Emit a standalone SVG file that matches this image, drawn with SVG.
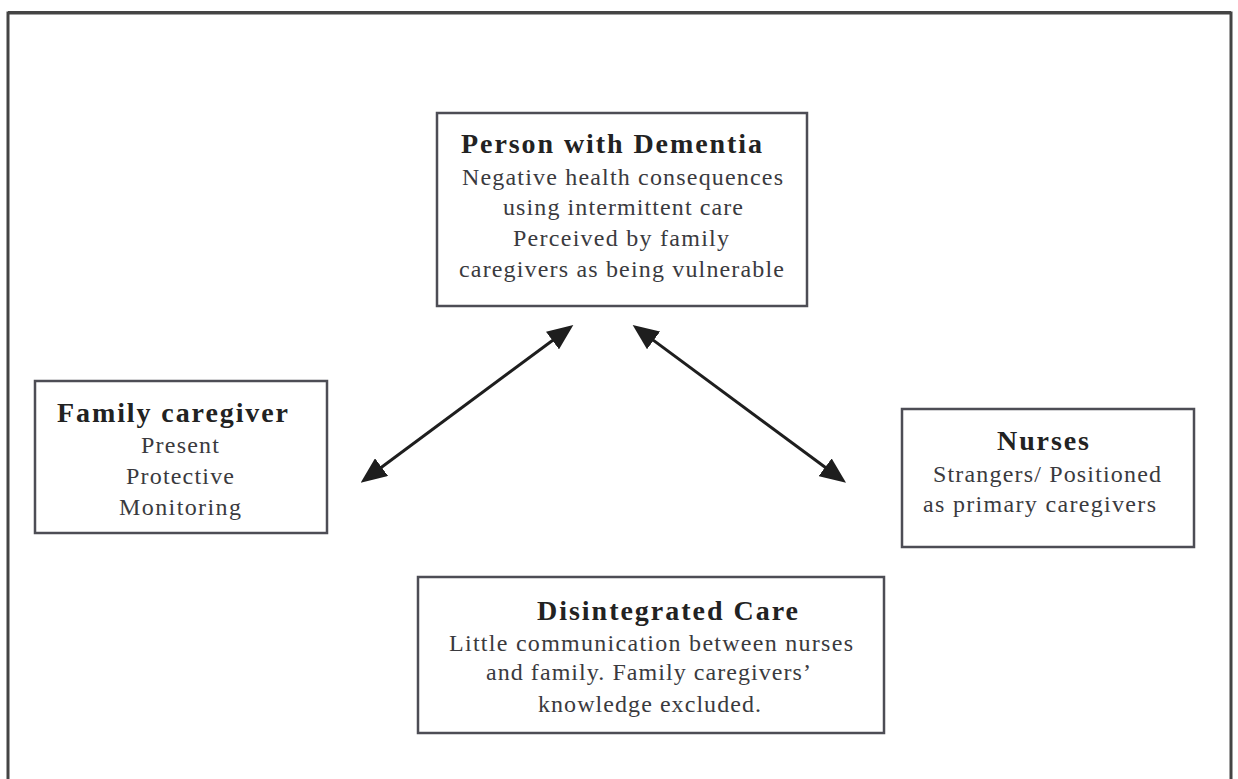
<svg xmlns="http://www.w3.org/2000/svg" width="1238" height="779" viewBox="0 0 1238 779">
<style>
.box{fill:#fff;stroke:#4d4d55;stroke-width:2.5}
.t{font-family:"Liberation Serif","Times New Roman",serif;font-size:28px;font-weight:bold;fill:#222}
.b{font-family:"Liberation Serif","Times New Roman",serif;font-size:24px;fill:#3a3a3e}
.arr{stroke:#1e1e1e;stroke-width:3;fill:none;marker-start:url(#ah);marker-end:url(#ah)}
</style>
<defs>
<marker id="ah" markerUnits="userSpaceOnUse" markerWidth="26" markerHeight="22" refX="16" refY="11" orient="auto-start-reverse" viewBox="0 0 26 22">
<path d="M0,0 L26,11 L0,22 z" fill="#1e1e1e"/>
</marker>
</defs>
<rect x="0" y="0" width="1238" height="779" fill="#fff"/>
<rect id="frame" x="8" y="13" width="1223" height="800" fill="none" stroke="#444" stroke-width="3"/>
<line x1="8" y1="12" x2="1231" y2="12" stroke="#444" stroke-width="2"/>
<g id="connectors">
<line class="arr" x1="368.7" y1="476.7" x2="565.3" y2="331"/>
<line class="arr" x1="640.7" y1="330.9" x2="838" y2="476.8"/>
</g>
<g id="person">
<rect class="box" x="437" y="113" width="370" height="193"/>
<text class="t" x="461" y="153" textLength="301" lengthAdjust="spacing">Person with Dementia</text>
<text class="b" x="462" y="185" textLength="321" lengthAdjust="spacing">Negative health consequences</text>
<text class="b" x="503" y="215" textLength="240" lengthAdjust="spacing">using intermittent care</text>
<text class="b" x="513" y="246" textLength="216" lengthAdjust="spacing">Perceived by family</text>
<text class="b" x="459" y="277" textLength="325" lengthAdjust="spacing">caregivers as being vulnerable</text>
</g>
<g id="family">
<rect class="box" x="35" y="381" width="292" height="152"/>
<text class="t" x="57" y="422" textLength="231" lengthAdjust="spacing">Family caregiver</text>
<text class="b" x="141" y="453" textLength="78" lengthAdjust="spacing">Present</text>
<text class="b" x="126" y="484" textLength="108" lengthAdjust="spacing">Protective</text>
<text class="b" x="119" y="515" textLength="122" lengthAdjust="spacing">Monitoring</text>
</g>
<g id="nurses">
<rect class="box" x="902" y="409" width="292" height="138"/>
<text class="t" x="997" y="450" textLength="92" lengthAdjust="spacing">Nurses</text>
<text class="b" x="933" y="482" textLength="228" lengthAdjust="spacing">Strangers/ Positioned</text>
<text class="b" x="923" y="512" textLength="233" lengthAdjust="spacing">as primary caregivers</text>
</g>
<g id="disintegrated">
<rect class="box" x="418" y="577" width="466" height="156"/>
<text class="t" x="537" y="620" textLength="261" lengthAdjust="spacing">Disintegrated Care</text>
<text class="b" x="449" y="651" textLength="404" lengthAdjust="spacing">Little communication between nurses</text>
<text class="b" x="486" y="680" textLength="325" lengthAdjust="spacing">and family. Family caregivers’</text>
<text class="b" x="538" y="712" textLength="223" lengthAdjust="spacing">knowledge excluded.</text>
</g>
</svg>
